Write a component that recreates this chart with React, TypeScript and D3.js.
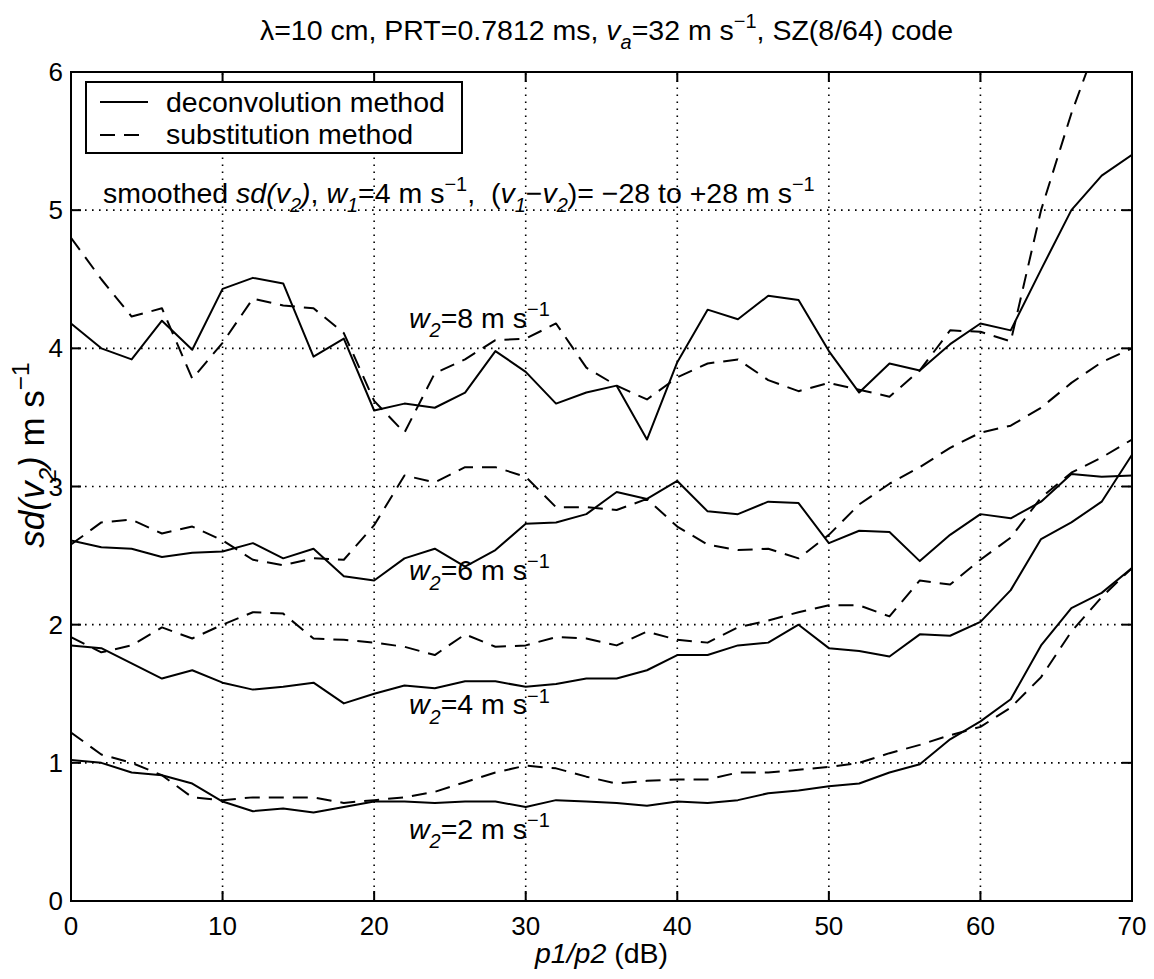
import React from 'react';
import * as d3 from 'd3';

// p1/p2 in dB, one sample every 2 dB
const ratioDb = d3.range(0, 71, 2);

// deconvolution method (solid)
const deconW8 = [4.18, 4.0, 3.92, 4.2, 3.99, 4.43, 4.51, 4.47, 3.94, 4.07, 3.55, 3.6, 3.57, 3.68, 3.98, 3.83, 3.6, 3.68, 3.73, 3.34, 3.9, 4.28, 4.21, 4.38, 4.35, 3.98, 3.68, 3.89, 3.84, 4.03, 4.18, 4.13, 4.57, 5.0, 5.25, 5.4];
const deconW6 = [2.61, 2.56, 2.55, 2.49, 2.52, 2.53, 2.59, 2.48, 2.55, 2.35, 2.32, 2.48, 2.55, 2.42, 2.54, 2.73, 2.74, 2.8, 2.96, 2.91, 3.04, 2.82, 2.8, 2.89, 2.88, 2.59, 2.68, 2.67, 2.46, 2.65, 2.8, 2.77, 2.89, 3.09, 3.07, 3.08];
const deconW4 = [1.85, 1.83, 1.72, 1.61, 1.67, 1.58, 1.53, 1.55, 1.58, 1.43, 1.5, 1.56, 1.54, 1.59, 1.59, 1.55, 1.57, 1.61, 1.61, 1.67, 1.78, 1.78, 1.85, 1.87, 2.0, 1.83, 1.81, 1.77, 1.93, 1.92, 2.02, 2.25, 2.62, 2.74, 2.89, 3.23];
const deconW2 = [1.02, 1.0, 0.93, 0.91, 0.85, 0.72, 0.65, 0.67, 0.64, 0.68, 0.72, 0.72, 0.71, 0.72, 0.72, 0.68, 0.73, 0.72, 0.71, 0.69, 0.72, 0.71, 0.73, 0.78, 0.8, 0.83, 0.85, 0.93, 0.99, 1.17, 1.3, 1.46, 1.85, 2.12, 2.23, 2.41];

// substitution method (dashed)
const substW8 = [4.8, 4.5, 4.23, 4.29, 3.78, 4.04, 4.36, 4.31, 4.29, 4.11, 3.62, 3.39, 3.82, 3.92, 4.06, 4.07, 4.18, 3.86, 3.73, 3.63, 3.79, 3.89, 3.92, 3.77, 3.69, 3.75, 3.7, 3.65, 3.84, 4.13, 4.12, 4.05, 5.0, 5.7, 6.3, 6.8];
const substW6 = [2.58, 2.74, 2.76, 2.66, 2.71, 2.61, 2.47, 2.43, 2.48, 2.47, 2.72, 3.08, 3.03, 3.14, 3.14, 3.07, 2.85, 2.85, 2.83, 2.91, 2.71, 2.58, 2.54, 2.55, 2.48, 2.65, 2.87, 3.02, 3.14, 3.28, 3.39, 3.44, 3.57, 3.75, 3.9, 4.0];
const substW4 = [1.91, 1.8, 1.85, 1.98, 1.9, 2.0, 2.09, 2.08, 1.9, 1.89, 1.87, 1.84, 1.78, 1.93, 1.84, 1.85, 1.91, 1.9, 1.85, 1.95, 1.89, 1.87, 1.98, 2.03, 2.09, 2.14, 2.14, 2.06, 2.32, 2.29, 2.47, 2.63, 2.92, 3.1, 3.21, 3.34];
const substW2 = [1.22, 1.06, 1.0, 0.91, 0.75, 0.73, 0.75, 0.75, 0.75, 0.71, 0.73, 0.75, 0.79, 0.86, 0.93, 0.98, 0.96, 0.9, 0.85, 0.87, 0.88, 0.88, 0.93, 0.93, 0.95, 0.97, 1.0, 1.07, 1.13, 1.2, 1.26, 1.4, 1.62, 1.95, 2.2, 2.41];

const xTicks = [0, 10, 20, 30, 40, 50, 60, 70];
const yTicks = [0, 1, 2, 3, 4, 5, 6];

// w2 labels, anchored at p1/p2 = 22.3 dB
const curveLabels = [
  { w: '8', y: 4.15 },
  { w: '6', y: 2.32 },
  { w: '4', y: 1.35 },
  { w: '2', y: 0.45 },
];

const FONT = '"Liberation Sans", Arial, Helvetica, sans-serif';
const W = 1154;
const H = 979;
const margin = { left: 71, right: 22, top: 72, bottom: 78 };

// text with sub/superscripts, each part: {t, sub, sup, it}
const Rich = ({ x, y, parts, size, anchor = 'start', transform }) => {
  let prev = 0;
  return (
    <text
      x={x}
      y={y}
      fontSize={size}
      textAnchor={anchor}
      transform={transform}
      fontFamily={FONT}
      fill="#000"
      style={{ whiteSpace: 'pre' }}
    >
      {parts.map((p, i) => {
        const shift = p.sub ? size * 0.33 : p.sup ? -size * 0.42 : 0;
        const dy = shift - prev;
        prev = shift;
        return (
          <tspan key={i} dy={dy} fontSize={p.sub || p.sup ? size * 0.7 : size} fontStyle={p.it ? 'italic' : 'normal'}>
            {p.t}
          </tspan>
        );
      })}
    </text>
  );
};

export default function App() {
  const x = d3.scaleLinear().domain([0, 70]).range([margin.left, W - margin.right]);
  const y = d3.scaleLinear().domain([0, 6]).range([H - margin.bottom, margin.top]);
  const [x0, x1] = x.range();
  const [y0, y1] = y.range();

  const line = d3.line<number>().x((d, i) => x(ratioDb[i])).y((d) => y(d));

  const solid = [deconW8, deconW6, deconW4, deconW2];
  const dashed = [substW8, substW6, substW4, substW2];
  const tick = 10;
  const fs = 28.5;

  return (
    <svg width={W} height={H} style={{ position: 'absolute', left: 0, top: 0, background: '#fff' }}>
      <defs>
        <clipPath id="plotArea">
          <rect x={x0} y={y1} width={x1 - x0} height={y0 - y1} />
        </clipPath>
      </defs>
      <rect width={W} height={H} fill="#fff" />

      {/* dotted grid */}
      <g stroke="#000" strokeWidth={1.6} strokeDasharray="1.6,5.4">
        {xTicks.slice(1, -1).map((t) => (
          <line key={'gx' + t} x1={x(t)} x2={x(t)} y1={y0} y2={y1} />
        ))}
        {yTicks.slice(1, -1).map((t) => (
          <line key={'gy' + t} x1={x0} x2={x1} y1={y(t)} y2={y(t)} />
        ))}
      </g>

      {/* curves */}
      <g clipPath="url(#plotArea)" fill="none" stroke="#000" strokeWidth={2} strokeLinejoin="round">
        {solid.map((s, i) => (
          <path key={'s' + i} d={line(s)} />
        ))}
        {dashed.map((s, i) => (
          <path key={'d' + i} d={line(s)} strokeDasharray="15,9" />
        ))}
      </g>

      {/* frame and ticks */}
      <g stroke="#000" strokeWidth={2}>
        <rect x={x0} y={y1} width={x1 - x0} height={y0 - y1} fill="none" />
        {xTicks.map((t) => (
          <g key={'tx' + t}>
            <line x1={x(t)} x2={x(t)} y1={y0} y2={y0 - tick} />
            <line x1={x(t)} x2={x(t)} y1={y1} y2={y1 + tick} />
          </g>
        ))}
        {yTicks.map((t) => (
          <g key={'ty' + t}>
            <line x1={x0} x2={x0 + tick} y1={y(t)} y2={y(t)} />
            <line x1={x1} x2={x1 - tick} y1={y(t)} y2={y(t)} />
          </g>
        ))}
      </g>

      {/* tick labels */}
      <g fontFamily={FONT} fontSize={26} fill="#000">
        {xTicks.map((t) => (
          <text key={'lx' + t} x={x(t)} y={y0 + 34} textAnchor="middle">
            {t}
          </text>
        ))}
        {yTicks.map((t) => (
          <text key={'ly' + t} x={x0 - 8} y={y(t) + 9} textAnchor="end">
            {t}
          </text>
        ))}
      </g>

      {/* title */}
      <Rich
        x={(x0 + x1) / 2 + 5}
        y={40}
        size={fs}
        anchor="middle"
        parts={[
          { t: 'λ=10 cm, PRT=0.7812 ms, ' },
          { t: 'v', it: true },
          { t: 'a', sub: true, it: true },
          { t: '=32 m s' },
          { t: '−1', sup: true },
          { t: ', SZ(8/64) code' },
        ]}
      />

      {/* axis labels */}
      <Rich
        x={(x0 + x1) / 2}
        y={y0 + 62}
        size={fs}
        anchor="middle"
        parts={[{ t: 'p1/p2', it: true }, { t: ' (dB)' }]}
      />
      <Rich
        x={0}
        y={0}
        size={35}
        anchor="middle"
        transform={`translate(44, 455) rotate(-90)`}
        parts={[
          { t: 'sd(v', it: true },
          { t: '2', sub: true, it: true },
          { t: ')', it: true },
          { t: ' m s' },
          { t: '−1', sup: true },
        ]}
      />

      {/* legend */}
      <g>
        <rect x={86} y={82} width={376} height={71} fill="#fff" stroke="#000" strokeWidth={2} />
        <line x1={100} x2={148} y1={102} y2={102} stroke="#000" strokeWidth={2} />
        <line x1={100} x2={148} y1={135} y2={135} stroke="#000" strokeWidth={2} strokeDasharray="15,9" />
        <text x={166} y={112} fontSize={fs} fontFamily={FONT}>deconvolution method</text>
        <text x={166} y={144} fontSize={fs} fontFamily={FONT}>substitution method</text>
      </g>

      {/* annotation */}
      <Rich
        x={103}
        y={203}
        size={fs}
        parts={[
          { t: 'smoothed ' },
          { t: 'sd(v', it: true },
          { t: '2', sub: true, it: true },
          { t: ')', it: true },
          { t: ', ' },
          { t: 'w', it: true },
          { t: '1', sub: true, it: true },
          { t: '=4 m s' },
          { t: '−1', sup: true },
          { t: ',  (' },
          { t: 'v', it: true },
          { t: '1', sub: true, it: true },
          { t: '−' },
          { t: 'v', it: true },
          { t: '2', sub: true, it: true },
          { t: ')= −28 to +28 m s' },
          { t: '−1', sup: true },
        ]}
      />

      {/* curve labels */}
      {curveLabels.map((c) => (
        <Rich
          key={'c' + c.w}
          x={x(22.3)}
          y={y(c.y)}
          size={fs}
          parts={[
            { t: 'w', it: true },
            { t: '2', sub: true, it: true },
            { t: '=' + c.w + ' m s' },
            { t: '−1', sup: true },
          ]}
        />
      ))}
    </svg>
  );
}
